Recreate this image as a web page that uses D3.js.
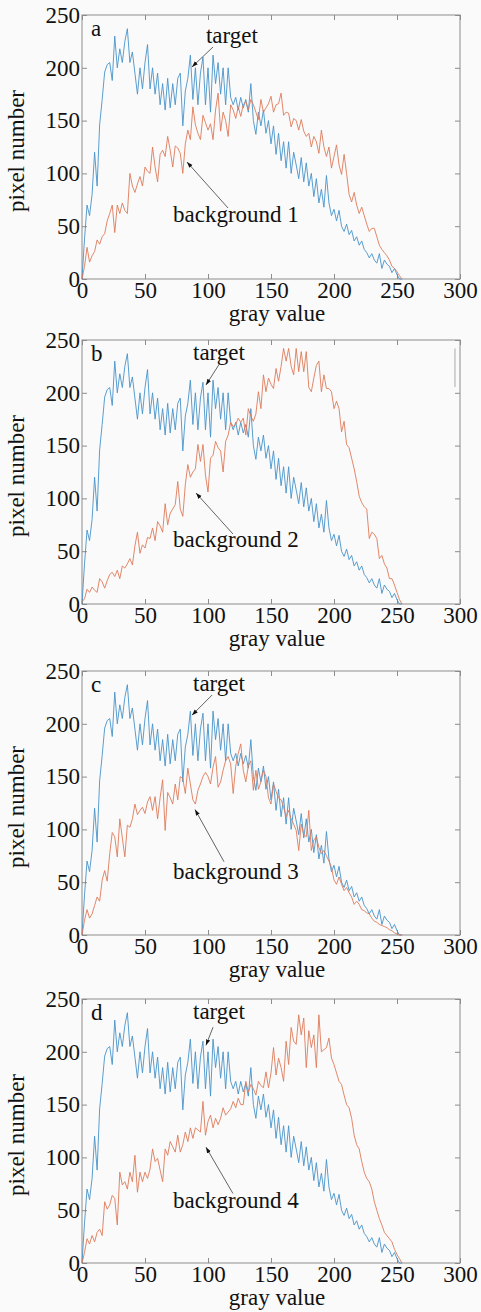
<!DOCTYPE html>
<html>
<head>
<meta charset="utf-8">
<script src="https://cdn.jsdelivr.net/npm/d3@7"></script>
<style>
  body { margin: 0; background: #fafafa; }
</style>
</head>
<body>
<div id="chart"></div>
<script>
// gray levels sampled every 2 units
const grayValues = d3.range(0, 256, 2);

// pixel counts (same target curve in all four panels)
const target = [
  0, 38, 70, 60, 80, 120, 88, 146, 170, 196, 203, 205, 188, 230, 200, 218,
  205, 225, 237, 205, 215, 195, 175, 200, 180, 205, 222, 180, 200, 175, 195, 165,
  185, 160, 190, 162, 185, 165, 190, 195, 145, 178, 190, 212, 170, 200, 165, 195,
  210, 165, 200, 158, 212, 185, 205, 175, 200, 165, 200, 172, 165, 172, 160, 172,
  162, 170, 158, 185, 150, 137, 158, 145, 160, 138, 150, 128, 145, 118, 138, 112,
  130, 105, 130, 100, 120, 108, 95, 115, 92, 110, 88, 100, 78, 95, 72, 85,
  68, 98, 72, 60, 66, 55, 65, 50, 45, 52, 42, 46, 36, 40, 32, 36,
  28, 25, 20, 24, 18, 15, 24, 10, 18, 14, 12, 6, 10, 4, 0, 0
];
const background1 = [
  0, 12, 30, 16, 22, 26, 37, 33, 40, 43, 55, 62, 70, 44, 70, 62,
  72, 65, 62, 100, 88, 82, 90, 97, 88, 106, 102, 100, 125, 106, 92, 118,
  122, 116, 135, 122, 106, 126, 124, 119, 100, 128, 141, 132, 163, 146, 138, 132,
  155, 148, 141, 147, 132, 160, 176, 140, 158, 150, 135, 165, 160, 152, 163, 154,
  165, 168, 160, 170, 165, 158, 151, 170, 158, 162, 166, 173, 158, 165, 166, 176,
  155, 158, 157, 144, 152, 150, 141, 151, 140, 135, 138, 125, 135, 130, 119, 141,
  125, 116, 125, 105, 116, 127, 108, 99, 118, 100, 80, 73, 82, 70, 62, 68,
  60, 52, 45, 48, 48, 40, 32, 28, 25, 22, 18, 12, 10, 7, 3, 0
];
const background2 = [
  2, 5, 14, 11, 16, 13, 11, 24, 21, 15, 22, 28, 30, 26, 32, 24,
  36, 34, 38, 43, 37, 55, 68, 48, 56, 53, 63, 62, 72, 60, 78, 74,
  68, 95, 75, 86, 90, 94, 116, 90, 83, 113, 132, 120, 125, 128, 151, 135,
  151, 122, 106, 138, 141, 154, 148, 145, 125, 154, 160, 172, 168, 170, 176, 172,
  176, 160, 185, 178, 173, 180, 201, 185, 217, 201, 214, 208, 204, 223, 211, 225,
  242, 230, 242, 225, 217, 242, 220, 239, 220, 239, 205, 201, 214, 226, 230, 201,
  217, 204, 204, 201, 185, 192, 185, 163, 173, 151, 148, 138, 128, 116, 102, 96,
  92, 90, 62, 68, 66, 62, 43, 46, 38, 34, 24, 24, 18, 11, 4, 0
];
const background3 = [
  0, 14, 24, 16, 20, 28, 36, 32, 52, 61, 51, 77, 97, 93, 74, 110,
  92, 74, 104, 102, 110, 124, 114, 118, 121, 115, 126, 131, 118, 131, 110, 130,
  147, 99, 135, 130, 124, 143, 128, 150, 148, 134, 158, 143, 128, 124, 137, 143,
  150, 154, 150, 143, 159, 169, 140, 145, 156, 165, 169, 162, 134, 160, 172, 181,
  156, 145, 160, 165, 137, 156, 138, 145, 156, 150, 130, 124, 143, 136, 130, 128,
  121, 112, 118, 110, 105, 99, 80, 105, 95, 93, 118, 80, 90, 93, 83, 77,
  80, 75, 70, 64, 52, 48, 55, 48, 42, 45, 40, 36, 29, 32, 29, 24,
  23, 21, 20, 16, 13, 12, 10, 9, 8, 7, 5, 4, 2, 1, 0, 0
];
const background4 = [
  0, 10, 23, 18, 26, 20, 29, 32, 26, 58, 51, 55, 64, 61, 36, 86,
  74, 77, 70, 86, 77, 102, 67, 86, 77, 86, 80, 89, 108, 96, 99, 88,
  77, 108, 102, 115, 110, 105, 121, 105, 112, 124, 115, 128, 118, 128, 126, 124,
  153, 121, 134, 140, 128, 137, 131, 137, 147, 140, 143, 146, 153, 147, 156, 150,
  150, 172, 162, 169, 165, 159, 172, 168, 166, 181, 166, 180, 204, 178, 194, 185,
  172, 210, 188, 223, 210, 207, 235, 216, 232, 185, 220, 204, 216, 185, 235, 200,
  202, 204, 213, 194, 188, 180, 172, 169, 159, 150, 147, 137, 121, 112, 108, 96,
  86, 80, 77, 70, 58, 50, 42, 36, 29, 26, 23, 20, 13, 8, 4, 0
];

const backgrounds = [background1, background2, background3, background4];
const panelLetters = ["a", "b", "c", "d"];
const bgLabels = ["background 1", "background 2", "background 3", "background 4"];
const xTicks = [0, 50, 100, 150, 200, 250, 300];
const yTicks = [0, 50, 100, 150, 200, 250];

// layout
const W = 481, H = 1312;
const left = 82, plotW = 378, plotH = 264;
const tops = [15, 340, 671, 999];
const font = "'Liberation Serif', 'Times New Roman', serif";
const fontSize = 23;

// annotation anchors in data units: text [x, y], arrow from -> to
const notes = [
  { t: [98.4, 223.5], tFrom: [104, 219.7], tTo: [87.3, 200.8], b: [72.2, 54], bFrom: [115.9, 67.2], bTo: [83.3, 110.8] },
  { t: [88.1, 231], tFrom: [109.5, 228.2], tTo: [98.4, 207.4], b: [72.2, 54], bFrom: [119.8, 66.3], bTo: [90.5, 105.1] },
  { t: [88.1, 231], tFrom: [103.2, 227.2], tTo: [87.3, 208.2], b: [72.2, 53.2], bFrom: [112.7, 69.4], bTo: [89.7, 118.8] },
  { t: [88.1, 230.9], tFrom: [104, 223.3], tTo: [98.4, 206.1], b: [72.2, 52.5], bFrom: [119.8, 65.8], bTo: [98.4, 109.7] }
];

const svg = d3.select("#chart").append("svg")
  .attr("width", W)
  .attr("height", H)
  .style("background", "#fafafa");

svg.append("defs").append("marker")
  .attr("id", "arrow")
  .attr("viewBox", "0 0 10 10")
  .attr("refX", 10).attr("refY", 5)
  .attr("markerWidth", 6).attr("markerHeight", 6)
  .attr("markerUnits", "userSpaceOnUse")
  .attr("orient", "auto")
  .append("path")
  .attr("d", "M0,1.5 L10,5 L0,8.5 Z")
  .attr("fill", "#111");

const x = d3.scaleLinear().domain([0, 300]).range([0, plotW]);
const y = d3.scaleLinear().domain([0, 250]).range([plotH, 0]);

const line = d3.line()
  .x((d, i) => x(grayValues[i]))
  .y(d => y(d));

const axisColor = "#8c8c8c";

tops.forEach((top, p) => {
  const g = svg.append("g").attr("transform", `translate(${left},${top})`);

  // inward ticks on all four sides
  const bottom = g.append("g").attr("transform", `translate(0,${plotH})`)
    .call(d3.axisBottom(x).tickValues(xTicks).tickSize(-5).tickPadding(3));
  const leftAx = g.append("g")
    .call(d3.axisLeft(y).tickValues(yTicks).tickSize(-5).tickPadding(2));
  g.append("g")
    .call(d3.axisTop(x).tickValues(xTicks).tickSize(-5).tickFormat(""));
  g.append("g").attr("transform", `translate(${plotW},0)`)
    .call(d3.axisRight(y).tickValues(yTicks).tickSize(-5).tickFormat(""));

  g.selectAll(".domain").remove();
  g.selectAll(".tick line").attr("stroke", axisColor);
  [bottom, leftAx].forEach(a => a.selectAll("text")
    .attr("fill", "#111")
    .style("font-family", font)
    .style("font-size", fontSize + "px"));

  g.append("rect")
    .attr("width", plotW).attr("height", plotH)
    .attr("fill", "none")
    .attr("stroke", axisColor)
    .attr("stroke-width", 1);

  g.append("path")
    .datum(target)
    .attr("d", line)
    .attr("fill", "none")
    .attr("stroke", "#4793c9")
    .attr("stroke-width", 0.9);

  g.append("path")
    .datum(backgrounds[p])
    .attr("d", line)
    .attr("fill", "none")
    .attr("stroke", "#de7b59")
    .attr("stroke-width", 0.9);

  // panel letter
  g.append("text")
    .attr("x", 9).attr("y", 21)
    .style("font-family", font).style("font-size", fontSize + "px")
    .attr("fill", "#111")
    .text(panelLetters[p]);

  // annotations
  const n = notes[p];
  g.append("text")
    .attr("x", x(n.t[0])).attr("y", y(n.t[1]))
    .style("font-family", font).style("font-size", fontSize + "px")
    .attr("fill", "#111")
    .text("target");
  g.append("text")
    .attr("x", x(n.b[0])).attr("y", y(n.b[1]))
    .style("font-family", font).style("font-size", fontSize + "px")
    .attr("fill", "#111")
    .text(bgLabels[p]);
  [[n.tFrom, n.tTo], [n.bFrom, n.bTo]].forEach(([a, b]) => {
    g.append("line")
      .attr("x1", x(a[0])).attr("y1", y(a[1]))
      .attr("x2", x(b[0])).attr("y2", y(b[1]))
      .attr("stroke", "#222")
      .attr("stroke-width", 0.7)
      .attr("marker-end", "url(#arrow)");
  });

  // stray mark seen in panel b
  if (p === 1) {
    g.append("line")
      .attr("x1", x(296)).attr("x2", x(296))
      .attr("y1", y(242)).attr("y2", y(205.5))
      .attr("stroke", "#aaa").attr("stroke-width", 1);
  }

  // axis titles
  g.append("text")
    .attr("x", plotW / 2 + 6).attr("y", plotH + 42)
    .attr("text-anchor", "middle")
    .style("font-family", font).style("font-size", fontSize + "px")
    .attr("fill", "#111")
    .text("gray value");
  g.append("text")
    .attr("transform", `translate(${24 - left},${plotH / 2 + 4}) rotate(-90)`)
    .attr("text-anchor", "middle")
    .style("font-family", font).style("font-size", fontSize + "px")
    .attr("fill", "#111")
    .text("pixel number");
});
</script>
</body>
</html>
